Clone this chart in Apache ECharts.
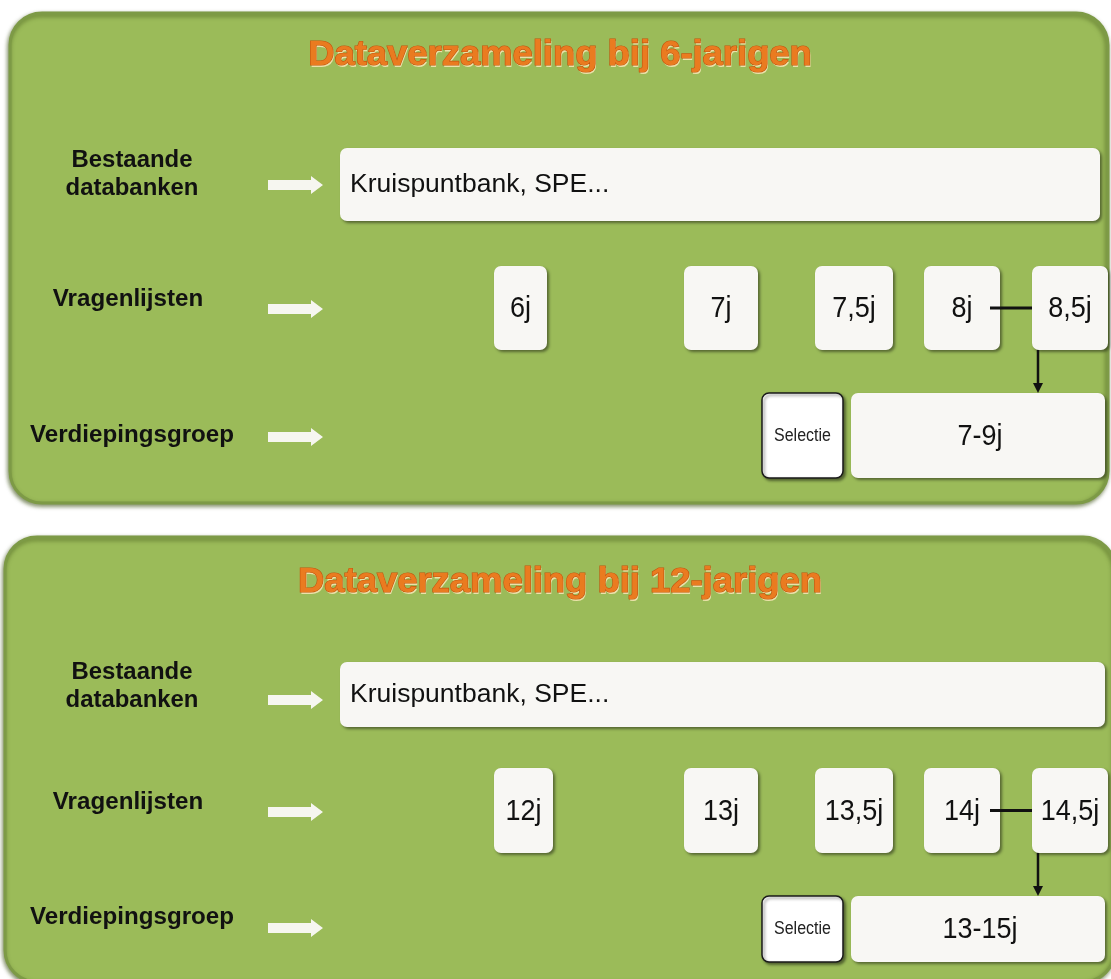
<!DOCTYPE html>
<html>
<head>
<meta charset="utf-8">
<script src="https://cdn.jsdelivr.net/npm/echarts@6/dist/echarts.min.js"></script>
<style>
html,body{margin:0;padding:0;background:#fff;}
#chart{width:1111px;height:979px;}
</style>
</head>
<body>
<div id="chart"></div>
<script>
// ---- content (text data) ----
const panelTitles = ['Dataverzameling bij 6-jarigen', 'Dataverzameling bij 12-jarigen'];
const rowLabels = ['Bestaande\ndatabanken', 'Vragenlijsten', 'Verdiepingsgroep'];
const sourceLabels = ['Kruispuntbank, SPE...', 'Kruispuntbank, SPE...'];
const waveLabels6 = ['6j', '7j', '7,5j', '8j', '8,5j'];
const waveLabels12 = ['12j', '13j', '13,5j', '14j', '14,5j'];
const selectionLabels = ['Selectie', 'Selectie'];
const deepLabels = ['7-9j', '13-15j'];
const waveLabels = [waveLabels6, waveLabels12];

// ---- layout (positions / styles, kept separate from content) ----
const panels = [
  {x: 10, y: 13, w: 1098, h: 490, titleY: 55,
   labelY: [[161, 189], 300, 436], arrowY: [185, 309, 437],
   srcBox: [340, 148, 760, 73], waveTop: 266, waveH: 84, deepTop: 393, deepH: 85},
  {x: 5, y: 537, w: 1110, h: 445, titleY: 582,
   labelY: [[673, 701], 803, 918], arrowY: [700, 812, 928],
   srcBox: [340, 662, 765, 65], waveTop: 768, waveH: 85, deepTop: 896, deepH: 66}
];
const waveX6 = [[494, 53], [684, 74], [815, 78], [924, 76], [1032, 76]];
const waveX12 = [[494, 59], [684, 74], [815, 78], [924, 76], [1032, 76]];
const selBox = [762, 81];
const deepBox = [851, 254];

const boxFill = '#F8F7F4';
const boxShadow = {shadowBlur: 3, shadowOffsetX: 2, shadowOffsetY: 2, shadowColor: 'rgba(0,0,0,0.45)'};
const txtFont = '"Liberation Sans", Arial, sans-serif';

function text(x, y, str, size, weight, sx, sy, extra) {
  return {
    type: 'text', x: x, y: y, scaleX: sx, scaleY: sy, silent: true,
    style: Object.assign({
      text: str, fill: '#111', font: weight + ' ' + size + 'px ' + txtFont,
      textAlign: 'center', textVerticalAlign: 'middle'
    }, extra || {})
  };
}
function rect(x, y, w, h, r, style) {
  return {type: 'rect', shape: {x: x, y: y, width: w, height: h, r: r}, style: style, silent: true};
}
function whiteArrow(y) {
  return {type: 'polygon', silent: true,
    shape: {points: [[268, y - 5], [311, y - 5], [311, y - 9], [323, y], [311, y + 9], [311, y + 5], [268, y + 5]]},
    style: {fill: '#F6F6F0'}};
}

const elements = [];
panels.forEach(function (p, pi) {
  elements.push(rect(p.x, p.y, p.w, p.h, 32, {
    fill: '#9BBB59', stroke: '#7D9A46', lineWidth: 3,
    shadowBlur: 4, shadowOffsetX: -1, shadowOffsetY: 2, shadowColor: 'rgba(60,80,20,0.6)'
  }));
  // title: light shadow layer, darker rim, orange face
  elements.push(text(561, p.titleY + 2, panelTitles[pi], 35, 'bold', 1.04, 1, {fill: 'rgba(255,235,190,0.8)'}));
  elements.push(text(560, p.titleY, panelTitles[pi], 35, 'bold', 1.04, 1, {
    fill: '#EA7B20', stroke: '#C2560E', lineWidth: 1.2
  }));
  const bl = rowLabels[0].split('\n');
  elements.push(text(132, p.labelY[0][0], bl[0], 23, 'bold', 1.04, 1));
  elements.push(text(132, p.labelY[0][1], bl[1], 23, 'bold', 1.04, 1));
  elements.push(text(128, p.labelY[1], rowLabels[1], 23, 'bold', 1.05, 1));
  elements.push(text(132, p.labelY[2], rowLabels[2], 23, 'bold', 1.05, 1));
  p.arrowY.forEach(function (ay) { elements.push(whiteArrow(ay)); });
  const sb = p.srcBox;
  elements.push(rect(sb[0], sb[1], sb[2], sb[3], 7, Object.assign({fill: boxFill}, boxShadow)));
  elements.push(text(350, sb[1] + sb[3] / 2 + 1, sourceLabels[pi], 25, 'normal', 1.06, 1, {textAlign: 'left'}));
  const wx = pi === 0 ? waveX6 : waveX12;
  waveLabels[pi].forEach(function (lab, i) {
    elements.push(rect(wx[i][0], p.waveTop, wx[i][1], p.waveH, 7, Object.assign({fill: boxFill}, boxShadow)));
  });
  const cy = p.waveTop + p.waveH / 2;
  elements.push({type: 'line', silent: true, shape: {x1: 990, y1: cy, x2: 1032, y2: cy},
    style: {stroke: '#111', lineWidth: 3}});
  waveLabels[pi].forEach(function (lab, i) {
    elements.push(text(wx[i][0] + wx[i][1] / 2, cy + 1, lab, 27, 'normal', 1, 1.12));
  });
  const top = p.waveTop + p.waveH, bot = p.deepTop;
  elements.push({type: 'line', silent: true, shape: {x1: 1038, y1: top, x2: 1038, y2: bot - 7},
    style: {stroke: '#111', lineWidth: 2.5}});
  elements.push({type: 'polygon', silent: true,
    shape: {points: [[1033, bot - 10], [1043, bot - 10], [1038, bot]]}, style: {fill: '#111'}});
  elements.push(rect(selBox[0], p.deepTop, selBox[1], p.deepH, 7,
    Object.assign({fill: '#FFFFFF', stroke: '#1a1a1a', lineWidth: 1.5}, boxShadow)));
  elements.push(text(selBox[0] + selBox[1] / 2, p.deepTop + p.deepH / 2, selectionLabels[pi], 16, 'normal', 1, 1.15, {fill: '#222'}));
  elements.push(rect(deepBox[0], p.deepTop, deepBox[1], p.deepH, 7, Object.assign({fill: boxFill}, boxShadow)));
  elements.push(text(deepBox[0] + deepBox[1] / 2 + 2, p.deepTop + p.deepH / 2 + 1, deepLabels[pi], 27, 'normal', 1, 1.12));
});

const chart = echarts.init(document.getElementById('chart'), null, {renderer: 'canvas', width: 1111, height: 979});
chart.setOption({
  backgroundColor: '#FFFFFF',
  animation: false,
  graphic: {elements: elements}
});
</script>
</body>
</html>
